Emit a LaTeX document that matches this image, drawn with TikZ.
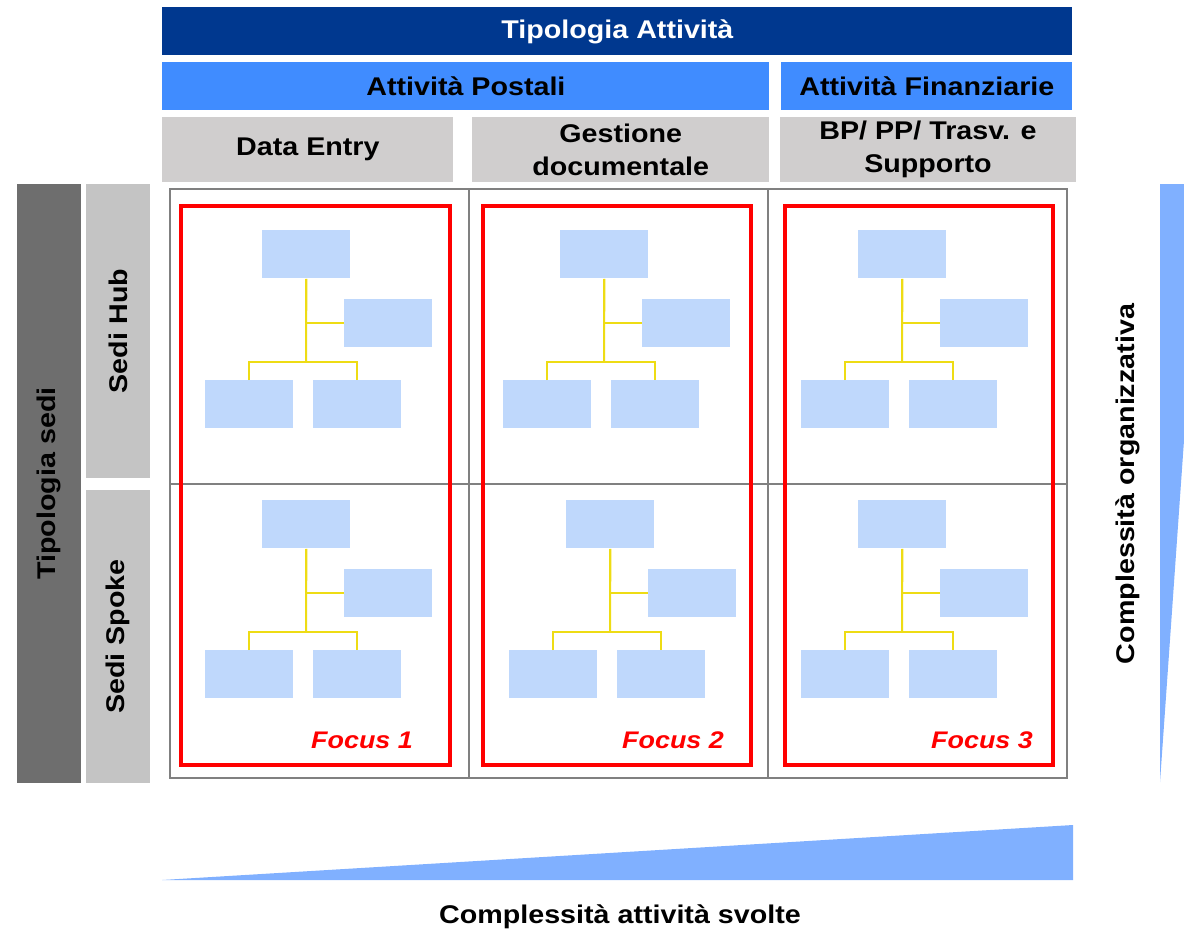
\documentclass[tikz,border=0pt]{standalone}
\usepackage{fontspec}
\setmainfont{Liberation Sans}[FakeStretch=1.12]
\usepackage{xcolor}
\usepackage{tikz}
\usetikzlibrary{positioning}

\definecolor{navyhead}{RGB}{0,56,143}
\definecolor{postblue}{RGB}{64,140,255}
\definecolor{headgray}{RGB}{208,206,206}
\definecolor{sidedark}{RGB}{110,110,110}
\definecolor{sidelight}{RGB}{196,196,196}
\definecolor{gridgray}{RGB}{128,128,128}
\definecolor{orgblue}{RGB}{191,216,252}
\definecolor{orgyellow}{RGB}{238,220,20}
\definecolor{wedgeblue}{RGB}{128,176,255}

\begin{document}
\begin{tikzpicture}[
    x=0.5pt, y=-0.5pt,% one unit = one pixel of the layout
    node distance = 3pt and 0pt,% gaps between header rows
       head/.style = {anchor=north west, inner sep=0, align=center,
                      font=\bfseries\fontsize{12.8}{16.5}\selectfont},% header boxes
       side/.style = {rotate=90, inner sep=0, minimum height=32pt,
                      font=\bfseries\fontsize{12.8}{16.5}\selectfont},% left boxes
     orgbox/.style = {anchor=north west, fill=orgblue, inner sep=0,
                      minimum width=44pt, minimum height=24pt},% chart boxes
    orgline/.style = {draw=orgyellow, line width=1pt},
   focusbox/.style = {draw=red, line width=2pt, minimum height=279.5pt},
    focuslbl/.style = {text=red, font=\bfseries\itshape\fontsize{12}{14}\selectfont},
       grid/.style = {draw=gridgray, line width=1pt}
    ]
    \useasboundingbox[fill=white] (0,0) rectangle (1184,934);

    % header rows
    \node (top) [head, fill=navyhead, text=white, minimum width=455pt, minimum height=24pt]
        at (162,7) {Tipologia Attività};
    \node (post) [head, fill=postblue, minimum width=303.5pt, minimum height=24pt,
        below right=of top.south west] {Attività Postali};
    \node (fin) [head, anchor=north east, fill=postblue, minimum width=145.5pt, minimum height=24pt,
        below left=of top.south east] {Attività Finanziarie};
    \node (data) [head, fill=headgray, minimum width=145.5pt, minimum height=32.5pt,
        below right=of post.south west] {Data Entry};
    \node (gest) [head, anchor=west, fill=headgray, minimum width=148.5pt, minimum height=32.5pt,
        right=9pt of data] {Gestione\\documentale};
    \node (bp) [head, anchor=west, fill=headgray, minimum width=148pt, minimum height=32.5pt,
        right=5pt of gest] {BP/ PP/ Trasv. e\\Supporto};

    % left side
    \node (tipo) [side, fill=sidedark, minimum width=299.5pt] at (49,483.5) {Tipologia sedi};
    \node (hub) [side, fill=sidelight, minimum width=147pt] at (118,331) {Sedi Hub};
    \node (spoke) [side, fill=sidelight, minimum width=146.5pt] at (118,636.5) {Sedi Spoke};

    % grid
    \draw[grid] (170,189) rectangle (1067,778);
    \draw[grid] (469,189) -- (469,778) (768,189) -- (768,778) (170,484) -- (1067,484);

    % org charts
    \foreach \tx/\ty/\n in {262/230/a, 560/230/b, 858/230/c, 262/500/d, 566/500/e, 858/500/f}{
        \node (\n-t) [orgbox] at (\tx,\ty) {};
        \node (\n-r) [orgbox] at (\tx+82,\ty+69) {};
        \node (\n-l) [orgbox] at (\tx-57,\ty+150) {};
        \node (\n-m) [orgbox] at (\tx+51,\ty+150) {};
        \coordinate (\n-j) at (\tx+44,\ty+132);
        \draw[orgline] (\n-t.south) |- (\n-r.west);
        \draw[orgline] (\n-t.south) -- (\n-j);
        \draw[orgline] (\n-l.north) |- (\n-j) -| (\n-m.north);
    }

    % focus frames
    \node (f1) [focusbox, minimum width=134.5pt] at (315.5,485.5) {};
    \node (f2) [focusbox, minimum width=134pt] at (617,485.5) {};
    \node (f3) [focusbox, minimum width=134pt] at (919,485.5) {};
    \node (l1) [focuslbl] at (362,740) {Focus 1};
    \node (l2) [focuslbl] at (673,740) {Focus 2};
    \node (l3) [focuslbl] at (982,740) {Focus 3};

    % complexity wedges
    \fill[wedgeblue] (162,880) -- (1073,825) -- (1073,880) -- cycle;
    \begin{scope}
        \clip (0,0) rectangle (1184,934);
        \fill[wedgeblue] (1160,184) -- (1202,184) -- (1160,782) -- cycle;
    \end{scope}
    \node (cx) [font=\bfseries\fontsize{12.8}{16.5}\selectfont] at (620,917) {Complessità attività svolte};
    \node (cy) [rotate=90, font=\bfseries\fontsize{12.8}{16.5}\selectfont] at (1128,484) {Complessità organizzativa};
\end{tikzpicture}
\end{document}
